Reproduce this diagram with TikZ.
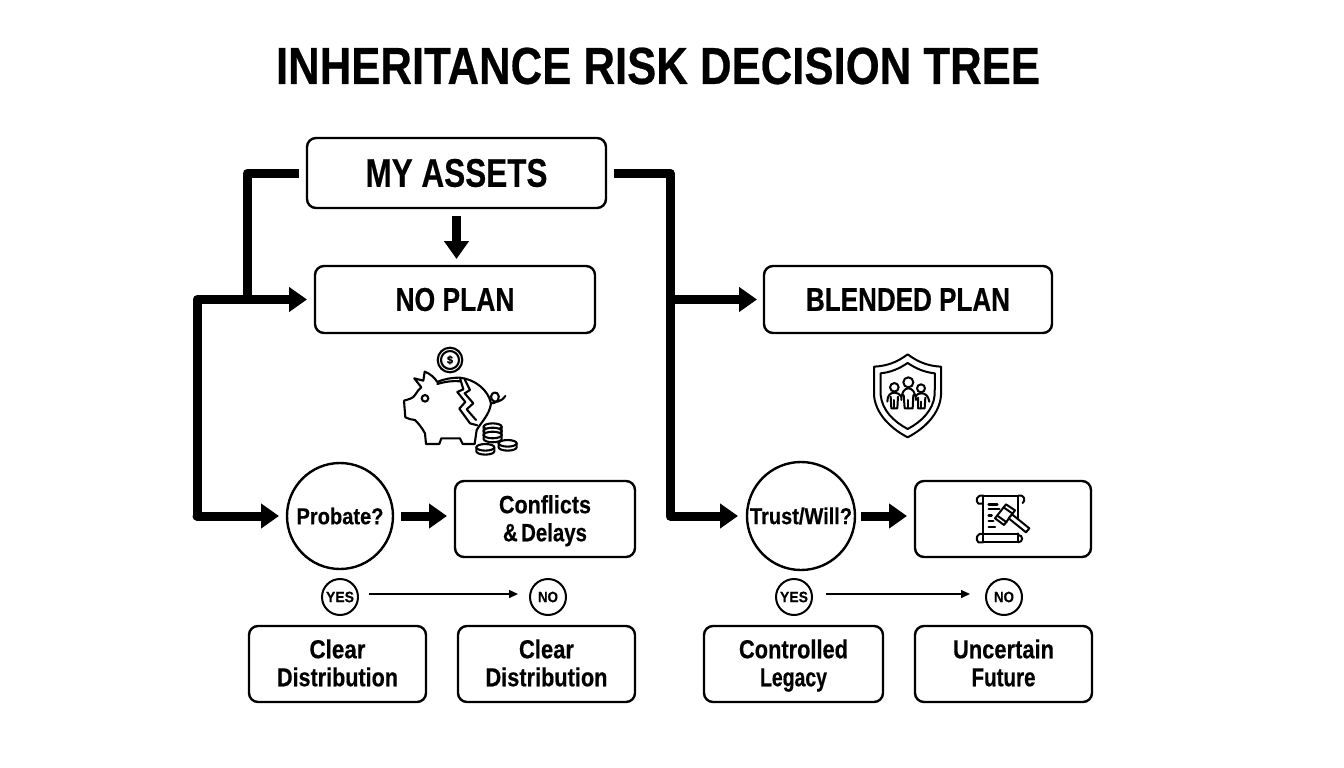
\documentclass[tikz,border=0pt]{standalone}
\usepackage{fontspec}
\usepackage{graphicx}
\setmainfont[BoldFeatures={FakeBold=0.5}]{Liberation Sans}
\usetikzlibrary{arrows.meta,calc}
\newcommand{\fitw}[3]{\resizebox{#1pt}{\height}{\fontsize{#2}{#2}\selectfont\bfseries #3}}
\newcommand{\lineone}{\rule[-2pt]{0pt}{24pt}}
\newcommand{\linetwo}{\rule[-5.5pt]{0pt}{30.5pt}}
\tikzset{
  base/.style={inner sep=0pt,outer sep=0pt,align=center,text=black},
  box/.style={base,draw=black,line width=2.4pt,rounded corners=9pt},
  ring/.style={base,draw=black,line width=2.4pt,circle},
  smallring/.style={base,draw=black,line width=2pt,circle,minimum size=36pt},
  heavy/.style={draw=black,line width=9pt,line join=round},
  heavyarrow/.style={heavy,-{Triangle[length=18pt,width=24pt]}},
  thinarrow/.style={draw=black,line width=1.5pt,-{Triangle[length=9pt,width=8pt]}},
}
\begin{document}
\begin{tikzpicture}[x=1pt,y=-1pt]
\useasboundingbox (0,0) rectangle (1344,768);
\fill[white] (0,0) rectangle (1344,768);
\node[base] (title) at (658,66) {\fitw{764}{52}{INHERITANCE RISK DECISION TREE}};

\node[box,minimum width=299pt,minimum height=70pt] (assets) at (456.5,173) {\fitw{182}{40}{MY ASSETS}};
\node[box,minimum width=280pt,minimum height=67pt] (noplan) at (455,299.5) {\fitw{119}{33}{NO PLAN}};
\node[box,minimum width=288pt,minimum height=67pt] (blended) at (908,299.5) {\fitw{204}{33}{BLENDED PLAN}};
\node[ring,minimum size=106pt] (probate) at (340,516) {\fitw{87}{23}{Probate?}};
\node[ring,minimum size=108pt] (trust) at (801,516) {\fitw{102}{23}{Trust/Will?}};
\node[box,minimum width=180pt,minimum height=76pt] (conflicts) at (545,519) {\lineone\fitw{92}{25}{Conflicts}\\\linetwo\fitw{84}{25}{\&\,Delays}};
\node[box,minimum width=176pt,minimum height=76pt] (doc) at (1003,519) {};
\node[smallring] (yesa) at (340,597) {\fitw{28}{15}{YES}};
\node[smallring] (noa) at (548,597) {\fitw{20}{15}{NO}};
\node[smallring] (yesb) at (794,597) {\fitw{28}{15}{YES}};
\node[smallring] (nob) at (1004,597) {\fitw{20}{15}{NO}};
\node[box,minimum width=177pt,minimum height=76pt] (oa) at (337.5,664) {\lineone\fitw{56}{26}{Clear}\\\linetwo\fitw{121}{26}{Distribution}};
\node[box,minimum width=177pt,minimum height=76pt] (ob) at (546.5,664) {\lineone\fitw{55}{26}{Clear}\\\linetwo\fitw{122}{26}{Distribution}};
\node[box,minimum width=179pt,minimum height=76pt] (oc) at (793.5,664) {\lineone\fitw{109}{26}{Controlled}\\\linetwo\fitw{67}{26}{Legacy}};
\node[box,minimum width=177pt,minimum height=76pt] (od) at (1003.5,664) {\lineone\fitw{101}{26}{Uncertain}\\\linetwo\fitw{64}{26}{Future}};

% junctions
\coordinate (ja) at (247,299.5);
\coordinate (jb) at (197,299.5);
\coordinate (jc) at (197,516);
\coordinate (jd) at (670,299.5);
\coordinate (je) at (670,516);

% connectors
\draw[heavy,shorten <=8pt] (assets.west) -| (ja);
\draw[heavyarrow,shorten >=8pt] (jc) -- (jb) -- (noplan.west);
\draw[heavyarrow,shorten >=8pt,line cap=round] (jc) -- (probate.west);
\draw[heavyarrow,shorten <=8pt,shorten >=9pt] (assets.east) -| (je) -- (trust.west);
\draw[heavyarrow,shorten >=7pt] (jd) -- (blended.west);
\draw[heavyarrow,shorten <=8pt,shorten >=7pt] (assets.south) -- (assets.south |- noplan.north);
\draw[heavyarrow,shorten <=8pt,shorten >=8pt] (probate.east) -- (probate.east -| conflicts.west);
\draw[heavyarrow,shorten <=6pt,shorten >=8pt] (trust.east) -- (trust.east -| doc.west);
\draw[thinarrow] ([xshift=11pt,yshift=3pt]yesa.east) -- ([xshift=-12pt,yshift=3pt]noa.west);
\draw[thinarrow] ([xshift=14pt,yshift=3pt]yesb.east) -- ([xshift=-16pt,yshift=3pt]nob.west);

% piggy bank icon
\begin{scope}[shift={(380,340)},x=0.3333pt,y=-0.3333pt,line width=2.1pt,line join=round,line cap=round]
 \draw (72,182) .. controls (85,178) and (100,175) .. (105,165) .. controls (110,155) and (118,148) .. (124,142) -- (103,115) -- (130,122) -- (134,95) .. controls (150,100) and (165,115) .. (172,126) .. controls (195,116) and (215,113) .. (240,113) .. controls (285,118) and (325,150) .. (333,190) .. controls (330,215) and (315,235) .. (300,255) -- (290,270) -- (284,312) -- (248,312) -- (240,295) -- (184,295) -- (178,312) -- (138,312) -- (135,280) .. controls (125,262) and (115,250) .. (105,240) .. controls (95,238) and (85,238) .. (76,232) -- cycle;
 \draw (172,132) .. controls (195,125) and (215,122) .. (240,124);
 \draw (240,114) -- (250,148) -- (232,156) -- (256,186) -- (238,206) -- (270,250) -- (292,256);
 \draw (254,118) -- (270,150) -- (254,160) -- (280,190) -- (260,208) -- (288,240);
 \draw (135,175) circle (3.3pt);
 \draw (333,190) .. controls (355,190) and (362,170) .. (352,160) .. controls (342,152) and (328,165) .. (335,178) .. controls (342,190) and (362,188) .. (376,168);
 \draw (210,60) circle (12.3pt);
 \draw (210,60) circle (9pt);
 \node[base] (dollar) at (210,60) {\fontsize{11}{11}\selectfont\bfseries\$};
 \foreach \cx/\cy/\rx in {338/260/27,338/273/27,338/285/27,316/322/27,383/310/27}{
   \draw[fill=white] (\cx-\rx,\cy) -- (\cx-\rx,\cy+12) arc[start angle=180,end angle=360,x radius=9pt,y radius=3.3pt] -- (\cx+\rx,\cy);
   \draw[fill=white] (\cx,\cy) ellipse [x radius=9pt,y radius=3.3pt];
 }
\end{scope}

% shield icon
\begin{scope}[shift={(860,345)},x=0.3333pt,y=-0.3333pt,line width=2pt,line join=round,line cap=round]
 \draw (143,28) .. controls (175,52) and (205,63) .. (243,65) -- (243,150) .. controls (240,205) and (195,250) .. (143,277) .. controls (91,250) and (46,205) .. (42,150) -- (42,65) .. controls (81,63) and (111,52) .. (143,28) -- cycle;
 \draw (143,54) .. controls (170,72) and (195,82) .. (225,85) -- (224,150) .. controls (220,195) and (185,230) .. (143,252) .. controls (101,230) and (66,195) .. (62,150) -- (62,85) .. controls (91,82) and (116,72) .. (143,54) -- cycle;
 \draw (103,127) circle (4.3pt);
 \draw (145,112) circle (5pt);
 \draw (183,130) circle (4pt);
 \draw (82,170) .. controls (82,150) and (92,143) .. (103,143) .. controls (112,143) and (120,147) .. (124,155);
 \draw (92,155) -- (94,190) -- (112,190) -- (114,155);
 \draw (103,165) -- (103,190);
 \draw (124,165) .. controls (124,140) and (135,130) .. (145,130) .. controls (156,130) and (166,140) .. (168,165);
 \draw (131,150) -- (134,190) -- (158,190) -- (160,150);
 \draw (145,165) -- (145,190);
 \draw (166,155) .. controls (172,147) and (176,145) .. (184,145) .. controls (196,145) and (205,152) .. (208,170);
 \draw (174,158) -- (174,190) -- (194,190) -- (196,158);
 \draw (184,170) -- (184,190);
\end{scope}

% scroll and gavel icon
\begin{scope}[shift={(960,485)},x=0.3333pt,y=-0.3333pt,line width=2pt,line join=round,line cap=round]
 \draw (70,32) -- (70,170) -- (175,170) -- (175,145);
 \draw (175,110) -- (175,32) -- (70,32);
 \draw (70,32) .. controls (50,28) and (45,48) .. (55,56) -- (65,56);
 \draw (175,32) .. controls (195,28) and (197,48) .. (188,54);
 \draw (70,148) .. controls (50,140) and (45,165) .. (55,172) -- (70,172);
 \draw (70,148) -- (175,148);
 \draw (175,150) .. controls (190,150) and (190,172) .. (175,172);
 \draw[line width=2.4pt] (86,58) -- (112,58);
 \draw[line width=2.4pt] (86,72) -- (118,72);
 \draw[line width=2.4pt] (86,92) -- (95,92);
 \draw[line width=2.4pt] (86,108) -- (100,108);
 \draw[line width=2.4pt] (86,126) -- (105,126);
 \draw[fill=white] (105,100) -- (138,58) -- (165,76) -- (132,120) -- cycle;
 \draw (112,92) -- (140,112);
 \draw (132,68) -- (158,86);
 \draw[fill=white] (146,100) -- (198,142) -- (208,130) -- (156,88) -- cycle;
\end{scope}
\end{tikzpicture}
\end{document}
